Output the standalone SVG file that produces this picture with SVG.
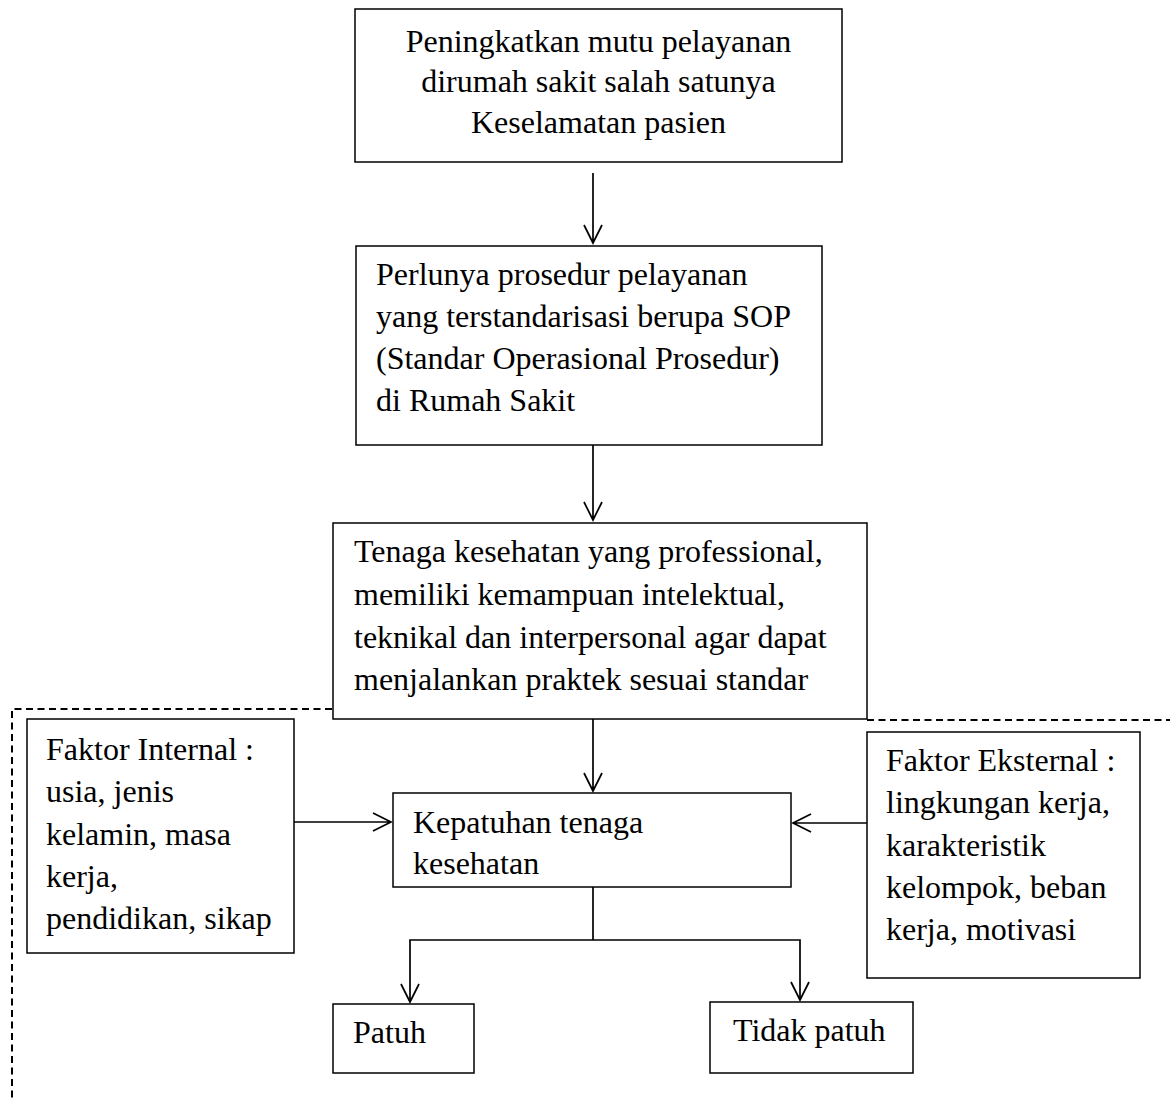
<svg xmlns="http://www.w3.org/2000/svg" width="1170" height="1101" viewBox="0 0 1170 1101">
<style>
.box{fill:#fff;stroke:#000;stroke-width:1.5}
.t{font-family:"Liberation Serif","Times New Roman",serif;font-size:32px;fill:#000}
.c{fill:none;stroke:#000;stroke-width:1.7}
.d{fill:none;stroke:#000;stroke-width:2;stroke-dasharray:7 4.5}
</style>
<rect width="1170" height="1101" fill="#fff"/>
<g id="dashed">
<path class="d" d="M332,709 H12 V1101"/>
<path class="d" d="M867,720 H1170"/>
</g>
<g id="n1">
<rect class="box" x="355" y="9" width="487" height="153"/>
<text class="t" text-anchor="middle"><tspan x="598.5" y="52">Peningkatkan mutu pelayanan</tspan><tspan x="598.5" y="92">dirumah sakit salah satunya</tspan><tspan x="598.5" y="133">Keselamatan pasien</tspan></text>
</g>
<g id="n2">
<rect class="box" x="356" y="246" width="466" height="199"/>
<text class="t"><tspan x="376" y="285">Perlunya prosedur pelayanan</tspan><tspan x="376" y="327">yang terstandarisasi berupa SOP</tspan><tspan x="376" y="369">(Standar Operasional Prosedur)</tspan><tspan x="376" y="411">di Rumah Sakit</tspan></text>
</g>
<g id="n3">
<rect class="box" x="333" y="523" width="534" height="196"/>
<text class="t"><tspan x="354" y="562">Tenaga kesehatan yang professional,</tspan><tspan x="354" y="605">memiliki kemampuan intelektual,</tspan><tspan x="354" y="648">teknikal dan interpersonal agar dapat</tspan><tspan x="354" y="690">menjalankan praktek sesuai standar</tspan></text>
</g>
<g id="n4">
<rect class="box" x="27" y="719" width="267" height="234"/>
<text class="t"><tspan x="46" y="760">Faktor Internal :</tspan><tspan x="46" y="802">usia, jenis</tspan><tspan x="46" y="845">kelamin, masa</tspan><tspan x="46" y="887">kerja,</tspan><tspan x="46" y="929">pendidikan, sikap</tspan></text>
</g>
<g id="n5">
<rect class="box" x="393" y="793" width="398" height="94"/>
<text class="t"><tspan x="413" y="833">Kepatuhan tenaga</tspan><tspan x="413" y="874">kesehatan</tspan></text>
</g>
<g id="n6">
<rect class="box" x="867" y="732" width="273" height="246"/>
<text class="t"><tspan x="886" y="771">Faktor Eksternal :</tspan><tspan x="886" y="813">lingkungan kerja,</tspan><tspan x="886" y="856">karakteristik</tspan><tspan x="886" y="898">kelompok, beban</tspan><tspan x="886" y="940">kerja, motivasi</tspan></text>
</g>
<g id="n7">
<rect class="box" x="333" y="1004" width="141" height="69"/>
<text class="t" x="353" y="1043">Patuh</text>
</g>
<g id="n8">
<rect class="box" x="710" y="1002" width="203" height="71"/>
<text class="t" x="733" y="1041">Tidak patuh</text>
</g>
<g id="connectors">
<path class="c" d="M593,173 V243 M584,225 L593,243 L602,225"/>
<path class="c" d="M593,445 V520 M584,502 L593,520 L602,502"/>
<path class="c" d="M593,719 V791 M584,773 L593,791 L602,773"/>
<path class="c" d="M294,822 H391 M373,813 L391,822 L373,831"/>
<path class="c" d="M867,823 H793 M811,814 L793,823 L811,832"/>
<path class="c" d="M593,887 V940 M410,1002 V940 H800 V1000"/>
<path class="c" d="M401,984 L410,1002 L419,984 M791,982 L800,1000 L809,982"/>
</g>
</svg>
